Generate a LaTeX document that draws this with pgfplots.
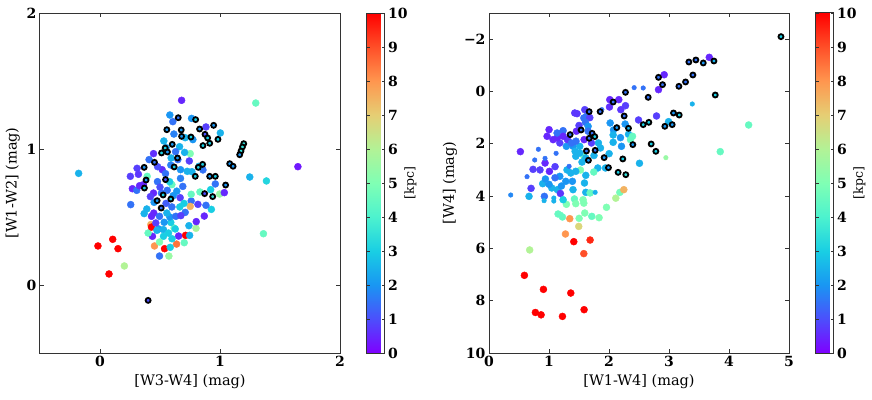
\documentclass[border=0pt]{standalone}
\usepackage{pgfplots}
\usepackage{pgfplotstable}
\pgfplotsset{compat=1.18}
\usepackage{fontspec}
\setmainfont{DejaVu Serif}

% matplotlib "rainbow" sampled at 0,0.1,...,1
\pgfplotsset{
  colormap={mplrainbow}{rgb=(0.5,0,1) rgb=(0.3,0.309,0.988) rgb=(0.1,0.588,0.951)
    rgb=(0.1,0.809,0.891) rgb=(0.3,0.951,0.809) rgb=(0.5,1,0.707) rgb=(0.7,0.951,0.588)
    rgb=(0.9,0.809,0.454) rgb=(1,0.588,0.309) rgb=(1,0.309,0.156) rgb=(1,0,0)},
  panel/.style={
    scale only axis, width=300pt, height=340pt, anchor=south west,
    axis line style={black!80, line width=1pt},
    tick align=inside, xtick pos=both, ytick pos=both,
    xticklabel pos=lower, yticklabel pos=left,
    major tick length=4pt, tick style={black!80, line width=0.8pt},
    ticklabel style={font=\bfseries\fontsize{14}{16}\selectfont},
    /pgf/number format/assume math mode=true,
    label style={font=\fontsize{14.5}{16}\selectfont},
    colormap name=mplrainbow, point meta min=0, point meta max=10,
    colorbar,
    colorbar style={
      at={(parent axis.north east)}, anchor=north west, xshift=18pt,
      width=18pt, ytick={0,...,10},
      axis line style={black!80, line width=1pt},
      tick align=inside, major tick length=3pt,
      yticklabel style={font=\bfseries\fontsize{14}{16}\selectfont},
      /pgf/number format/assume math mode=true,
      ylabel={[kpc]}, ylabel shift=-10pt,
      ylabel style={font=\fontsize{12.5}{14}\selectfont},
    },
  },
  dots/.style={scatter, only marks, mark=*, mark size=#1,
    scatter/use mapped color={draw=mapped color, fill=mapped color},
    scatter src=explicit},
  ringed/.style={scatter, only marks, mark=*, mark size=2.5pt,
    scatter/use mapped color={draw=black, fill=mapped color},
    every mark/.append style={line width=1.8pt},
    scatter src=explicit},
}

\pgfplotstableread{
x y d
-0.178 0.821 2.5
0.68 1.358 0.5
1.298 1.338 4.5
1.649 0.87 0.3
1.248 0.794 2.5
1.387 0.765 3.2
1.362 0.377 4.5
-0.017 0.287 10
0.106 0.336 10
0.150 0.267 10
0.075 0.081 10
0.203 0.14 6
0.256 0.591 1.5
0.496 0.213 1.5
0.574 0.213 5.5
0.454 0.287 8
0.538 0.267 10
0.638 0.301 8.5
0.585 0.277 3
0.702 0.311 4.5
0.713 0.365 10
0.747 0.365 2.5
0.8 0.417 5.8
0.741 0.436 2.5
0.655 0.36 0.5
0.437 0.358 0.5
0.401 0.382 4.5
0.49 0.412 2
0.529 0.407 2.5
0.423 0.444 7.5
0.429 0.426 10
0.6 0.34 3
0.618 0.419 4.5
0.59 0.46 3
0.582 0.5 2
0.632 0.505 1.5
0.71 0.534 1.5
0.802 0.466 0.5
0.869 0.507 0.5
0.928 0.556 3
0.883 0.586 1.5
0.816 0.593 0.8
0.76 0.618 1.5
0.752 0.578 7.5
0.833 0.684 4.5
0.76 0.667 4.5
0.922 0.701 3
0.961 0.743 1.5
0.997 0.669 5.5
1.036 0.679 0.5
0.858 0.846 1.5
0.825 0.873 2.5
0.727 0.836 2.5
0.766 0.833 2.5
0.744 0.912 0.8
0.752 0.966 5
0.705 0.975 2.5
0.663 1.017 2.5
0.774 1.069 2
0.763 1.225 2
0.582 1.25 2
0.607 1.201 1.5
0.616 1.110 1.7
0.71 1.083 2.5
0.532 1.059 2.5
0.883 1.162 0.8
1.003 1.118 2.5
0.446 0.966 0.6
0.409 0.922 1.5
0.309 0.858 0.8
0.253 0.799 0.8
0.32 0.814 0.7
0.27 0.708 0.5
0.306 0.696 1.5
0.393 0.799 4.5
0.479 0.76 1.5
0.518 0.848 0.6
0.546 0.819 1.5
0.59 0.882 1.7
0.593 0.934 2.5
0.649 0.922 1.5
0.671 0.848 2
0.671 0.784 1.7
0.599 0.738 4.5
0.56 0.696 1.5
0.61 0.657 2
0.668 0.642 0.8
0.69 0.725 1.5
0.446 0.676 0.5
0.512 0.676 1.5
0.451 0.608 2
0.39 0.559 2.5
0.368 0.525 2.5
0.448 0.529 0.5
0.496 0.505 1.5
0.557 0.529 2.5
0.599 0.574 1.5
0.665 0.574 3
0.465 0.456 0.8
0.535 0.461 2
0.571 0.382 3
0.627 0.412 3
0.529 0.358 3
0.474 0.402 2.5
0.496 0.316 5
0.674 0.51 0.8
0.362 0.738 0.5
0.429 0.505 0.5
0.33 0.73 0.5
0.50 0.72 1
0.42 0.65 0.8
0.55 0.60 1.2
0.64 0.69 2
0.70 0.60 3
0.55 1.01 2.2
0.48 0.87 1
0.63 0.98 1.5
0.58 0.76 3
}\leftplain

\pgfplotstableread{
x y d
0.401 -0.113 1
0.652 1.230 1.5
0.797 1.216 3
0.557 1.142 2
0.677 1.14 2
0.830 1.147 2
0.947 1.174 2
0.875 1.108 1
0.897 1.081 3
0.68 1.093 2
0.758 1.088 3
0.983 1.071 3
0.602 1.034 2
0.858 1.025 3
0.914 1.042 3
0.543 1.007 3
0.513 0.971 3
0.562 0.978 2
0.646 0.934 2
1.198 1.039 3.5
1.187 1.015 3.5
1.175 0.985 3.5
1.164 0.958 2
0.454 0.902 1.5
0.368 0.865 2
0.618 0.868 3
0.855 0.887 3
0.819 0.865 3
1.081 0.892 2
1.109 0.873 2
0.384 0.772 2
0.370 0.713 3
0.546 0.775 1
0.794 0.799 3
0.914 0.799 2
0.961 0.799 3
1.047 0.735 2
0.526 0.662 3
0.590 0.632 3
0.476 0.62 2
0.51 0.566 1.5
0.872 0.672 1
0.939 0.65 3.5
}\leftring

\pgfplotstableread{
x y d
3.671 -1.305 0.5
2.92 -0.64 0.5
2.825 -0.069 0.5
4.327 1.281 4.5
3.854 2.301 4.5
2.163 0.313 0.5
2.275 0.543 0.8
2.197 0.696 0.7
2.008 0.594 0.6
2.492 1.09 0.8
2.792 0.938 0.8
2.992 1.154 2.5
2.019 1.205 2
2.075 1.473 2
2.269 1.245 2
2.325 1.638 2.5
2.392 1.714 4.5
2.069 1.663 2.5
2.191 1.765 2
2.208 2.097 2
2.069 1.944 2.5
2.508 2.746 2.5
2.002 2.378 2.5
1.858 2.16 2.5
1.824 1.969 2.5
1.813 2.926 2.5
1.941 2.926 2.5
1.746 3.08 4.5
1.585 2.492 4.5
1.613 3.207 2.5
1.591 3.5 2.5
1.613 3.857 2.5
1.685 3.88 4.5
1.524 3.003 5
2.18 3.86 4.8
2.247 3.755 7.5
2.113 4.08 6
1.958 4.43 5
1.58 4.27 5
1.568 4.14 5
1.424 4.11 4.5
1.446 4.29 5
1.29 4.315 5
1.151 4.685 4.5
1.224 4.8 4.5
1.346 4.864 8
1.502 4.851 5
1.596 4.647 5
1.713 4.775 4.5
1.835 4.826 5
1.496 5.16 6.8
1.274 5.45 8
1.413 5.743 10
1.685 5.68 9.5
1.58 6.2 9
0.678 6.06 6
0.59 7.03 10
0.907 7.567 10
1.363 7.707 10
0.773 8.45 10
0.868 8.54 10
1.224 8.6 10
1.585 8.344 10
0.523 2.301 0.5
0.734 2.978 0.8
0.667 4.01 2.5
0.701 3.704 0.8
0.895 3.526 2.5
0.934 2.736 0.5
0.923 4.01 1.5
0.94 3.347 2
1.007 3.054 0.5
1.101 2.875 0.8
1.046 3.691 2.5
1.14 3.755 2.5
1.18 3.245 2
1.279 3.436 2
1.19 3.9 0.7
1.207 3.615 2
1.235 4.14 3
1.363 3.118 2.5
1.39 3.436 2
1.40 3.755 2.5
1.446 3.054 2.5
1.29 2.097 2
1.402 2.097 2
1.446 2.479 2.5
1.307 1.842 0.7
1.374 1.97 1.5
1.18 1.97 0.8
1.135 1.779 0.5
1.001 1.46 0.5
0.968 1.714 0.5
1.068 1.842 0.5
1.135 1.588 1.5
1.235 1.5 1.5
1.235 1.714 0.5
1.429 0.823 0.7
1.468 0.848 0.7
1.596 0.696 0.8
1.58 1.014 1.5
1.624 0.95 1.5
1.68 1.001 0.8
1.607 1.18 1.5
1.652 1.332 2
1.457 1.52 0.5
1.652 1.52 1.5
1.585 1.842 0.5
1.707 1.97 0.8
1.513 2.097 2.5
1.435 2.288 2.5
1.513 2.352 2.5
1.613 2.543 2.5
2.013 0.313 0.5
2.358 1.842 4.5
1.10 3.30 1.5
1.30 3.00 2.5
1.00 3.55 2
0.85 3.00 0.8
1.50 1.30 0.8
1.45 1.90 1.5
1.55 2.70 2.5
1.75 2.45 2.5
}\rightplain

\pgfplotstableread{
x y d
2.57 -0.133 1.5
2.419 -0.146 1.5
3.388 0.479 2.5
2.948 2.531 5.5
0.362 3.959 1.8
0.762 2.62 1.5
0.823 2.21 1.5
0.634 3.258 1.5
0.934 2.557 1.5
0.918 4.176 2.5
1.118 2.365 1.5
1.08 4.074 2.5
1.08 4.19 2.5
1.335 2.862 1.5
1.88 0.696 1.5
1.769 3.857 2.5
1.2 4.7 4.5
}\rightsmall

\pgfplotstableread{
x y d
4.866 -2.096 3
3.331 -1.127 1.5
3.448 -1.204 1.5
3.571 -1.09 2
3.749 -1.165 2.5
2.825 -0.54 1.5
2.892 -0.26 1.5
3.276 -0.363 1.5
3.398 -0.63 1.5
3.165 -0.197 1.5
3.771 0.135 3
2.275 0.033 1.5
2.653 0.224 1.5
2.069 0.403 1.5
2.253 0.938 1.5
1.852 0.772 1.5
1.669 0.772 1.5
2.57 1.269 3
2.664 1.18 3
2.931 1.332 2
3.053 1.269 2
3.075 0.823 2
3.17 0.9 3
2.13 1.383 2
2.325 1.409 2.5
2.397 2.033 2
2.703 2.008 3
2.781 2.288 3
2.23 2.58 3
1.919 2.53 2
1.991 2.913 2
2.152 3.092 3
2.28 3.182 3.5
1.624 2.276 1.5
1.769 2.25 1.5
1.657 2.632 2
1.669 1.791 1.5
1.719 1.6 1.5
1.763 1.727 3
1.535 1.473 1.5
1.352 1.651 1.5
}\rightring

\begin{document}
\begin{tikzpicture}
\path[use as bounding box] (0,0) rectangle (872pt,399pt);

\begin{axis}[panel, at={(40pt,46pt)},
  xmin=-0.5, xmax=2, ymin=-0.5, ymax=2,
  xtick={0,1,2}, ytick={0,1,2},
  xlabel={[W3-W4] (mag)}, ylabel={[W1-W2] (mag)}]
  \addplot[dots=3.5pt] table[x=x, y=y, meta=d] {\leftplain};
  \addplot[ringed] table[x=x, y=y, meta=d] {\leftring};
\end{axis}

\begin{axis}[panel, at={(489pt,46pt)},
  xmin=0, xmax=5, ymin=-3, ymax=10, y dir=reverse,
  xtick={0,1,2,3,4,5}, ytick={-2,0,2,4,6,8,10},
  yticklabels={−2,0,2,4,6,8,10},
  xlabel={[W1-W4] (mag)}, ylabel={[W4] (mag)}]
  \addplot[dots=3.5pt] table[x=x, y=y, meta=d] {\rightplain};
  \addplot[dots=2.3pt] table[x=x, y=y, meta=d] {\rightsmall};
  \addplot[ringed] table[x=x, y=y, meta=d] {\rightring};
\end{axis}
\end{tikzpicture}
\end{document}
